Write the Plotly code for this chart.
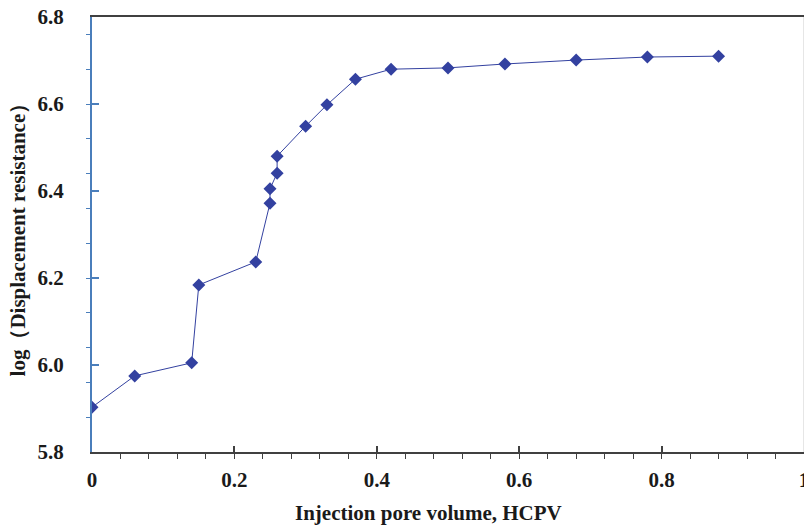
import plotly.graph_objects as go

pv = [0, 0.06, 0.14, 0.15, 0.23, 0.25, 0.25, 0.26, 0.26, 0.30, 0.33, 0.37, 0.42, 0.50, 0.58, 0.68, 0.78, 0.88]
log_res = [5.903, 5.975, 6.005, 6.184, 6.237, 6.372, 6.405, 6.441, 6.480, 6.549, 6.598, 6.657, 6.680, 6.683, 6.692, 6.701, 6.708, 6.710]

x_ticks = [0, 0.2, 0.4, 0.6, 0.8, 1]
x_labels = ["0", "0.2", "0.4", "0.6", "0.8", "1"]
y_ticks = [5.8, 6.0, 6.2, 6.4, 6.6, 6.8]
y_labels = ["5.8", "6.0", "6.2", "6.4", "6.6", "6.8"]
x_title = "Injection pore volume, HCPV"
y_title = "log（Displacement resistance）"

col = "#3341a0"
font = "Liberation Serif"

fig = go.Figure()
fig.add_trace(go.Scatter(
    x=pv, y=log_res, mode="lines+markers",
    line=dict(color=col, width=1),
    marker=dict(symbol="diamond", size=10, color=col),
    showlegend=False,
))

fig.update_layout(
    width=804, height=525,
    margin=dict(l=92, r=0, t=17, b=73, autoexpand=False),
    paper_bgcolor="white", plot_bgcolor="white",
    font=dict(family=font, size=20, color="#1a1a1a"),
    xaxis=dict(
        range=[0, 1], tickvals=x_ticks, ticktext=x_labels,
        showgrid=False, zeroline=False, automargin=False,
        showline=True, linecolor="#404040", linewidth=2, mirror=True,
        ticks="inside", ticklen=6, tickwidth=1.5, tickcolor="#404040",
        minor=dict(dtick=0.04, tick0=0, ticks="outside", ticklen=5, tickwidth=1.2, tickcolor="#404040"),
        ticklabelstandoff=8, ticklabeloverflow="allow",
        tickfont=dict(family=font, size=21, color="#1a1a1a", weight="bold"),
    ),
    yaxis=dict(
        range=[5.8, 6.8], tickvals=y_ticks, ticktext=y_labels,
        showgrid=False, zeroline=False, automargin=False,
        showline=True, linecolor="#4a7ebb", linewidth=2,
        ticks="inside", ticklen=7, tickwidth=1.5, tickcolor="#4a7ebb",
        minor=dict(dtick=0.08, tick0=5.8, ticks="outside", ticklen=4, tickwidth=1.2, tickcolor="#4a7ebb"),
        ticklabelstandoff=22,
        tickfont=dict(family=font, size=21, color="#1a1a1a", weight="bold"),
    ),
    annotations=[
        dict(text="<b>" + x_title + "</b>", xref="paper", yref="paper", x=0.473, y=-0.14,
             xanchor="center", yanchor="middle", showarrow=False,
             font=dict(family=font, size=21, color="#1a1a1a")),
        dict(text="<b>" + y_title + "</b>", xref="paper", yref="paper", x=-0.104, y=0.50,
             xanchor="center", yanchor="middle", showarrow=False, textangle=-90,
             font=dict(family=font, size=21, color="#1a1a1a")),
    ],
)
fig.add_shape(type="line", xref="paper", yref="paper", x0=1, x1=1, y0=0, y1=1,
              line=dict(color="#cccccc", width=1))

fig.write_html("out.html")
